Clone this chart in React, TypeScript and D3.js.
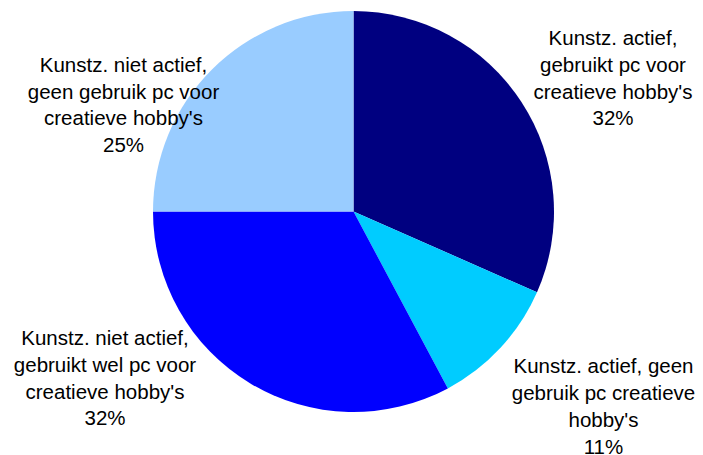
import React from "react";
import * as d3 from "d3";

const categories = [
  ["Kunstz. actief,", "gebruikt pc voor", "creatieve hobby's"],
  ["Kunstz. actief, geen", "gebruik pc creatieve", "hobby's"],
  ["Kunstz. niet actief,", "gebruikt wel pc voor", "creatieve hobby's"],
  ["Kunstz. niet actief,", "geen gebruik pc voor", "creatieve hobby's"],
];
const values = [31.6, 10.6, 32.8, 25.0];
const percentLabels = ["32%", "11%", "32%", "25%"];
const colors = ["#000080", "#00CCFF", "#0000FF", "#99CCFF"];

const W = 703;
const H = 455;
const cx = 353.5;
const cy = 211.5;
const R = 200.5;
const labelPos = [
  { x: 613, y: 45 },
  { x: 603.5, y: 373.3 },
  { x: 105, y: 345 },
  { x: 123.5, y: 71.7 },
];
const lineH = 26.8;

export default function App() {
  const pie = d3
    .pie<number>()
    .sort(null)
    .startAngle(0)
    .endAngle(2 * Math.PI)
    .value((d) => d);
  const arcs = pie(values);
  const arc = d3.arc<d3.PieArcDatum<number>>().innerRadius(0).outerRadius(R);
  return (
    <svg
      width={W}
      height={H}
      style={{ position: "absolute", left: 0, top: 0, display: "block" }}
    >
      <rect width={W} height={H} fill="#fff" />
      <g transform={`translate(${cx},${cy})`}>
        {arcs.map((a, i) => (
          <path key={i} d={arc(a) || ""} fill={colors[i]} />
        ))}
      </g>
      {categories.map((lines, i) => (
        <text
          key={i}
          textAnchor="middle"
          fontFamily="'Liberation Sans', Arial, sans-serif"
          fontSize={20.5}
          fill="#000"
        >
          {[...lines, percentLabels[i]].map((t, j) => (
            <tspan key={j} x={labelPos[i].x} y={labelPos[i].y + j * lineH}>
              {t}
            </tspan>
          ))}
        </text>
      ))}
    </svg>
  );
}
